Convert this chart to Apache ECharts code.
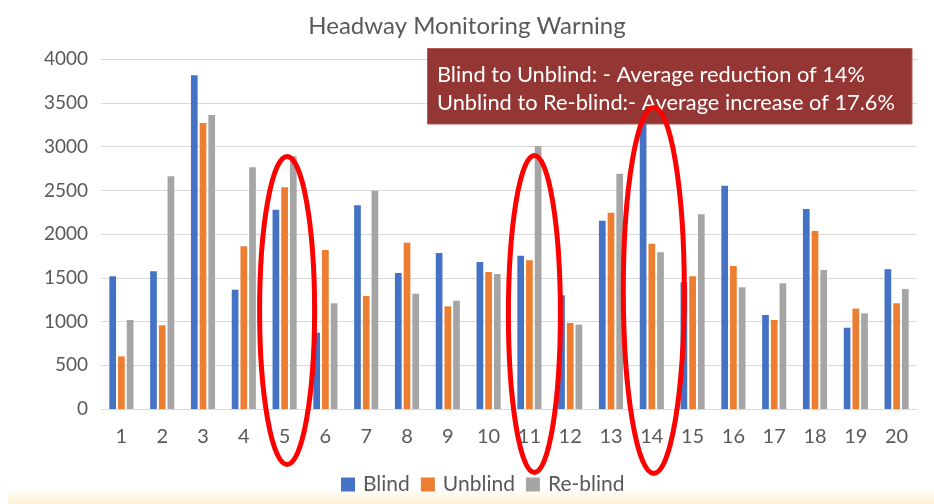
<!DOCTYPE html>
<html>
<head>
<meta charset="utf-8">
<script src="https://cdn.jsdelivr.net/npm/echarts@6/dist/echarts.min.js"></script>
<style>html,body{margin:0;padding:0;background:#fff}#c{width:934px;height:504px}</style>
</head>
<body>
<div id="c"></div>
<script>
const categories = ['1','2','3','4','5','6','7','8','9','10','11','12','13','14','15','16','17','18','19','20'];
const blind   = [1518,1575,3817,1365,2280,873,2330,1556,1785,1682,1754,1300,2154,3400,1449,2555,1075,2288,930,1598];
const unblind = [602,957,3272,1861,2536,1819,1293,1903,1174,1567,1701,984,2246,1891,1518,1636,1018,2036,1148,1209];
const reblind = [1018,2661,3363,2764,2890,1209,2497,1319,1239,1544,3008,965,2692,1792,2227,1392,1437,1590,1094,1373];
const seriesNames = ['Blind','Unblind','Re-blind'];
const titleText = 'Headway Monitoring Warning';
const noteLines = ['Blind to Unblind: - Average reduction of 14%', 'Unblind to Re-blind:- Average increase of 17.6%'];

const FONT = 'Lato';
const chart = echarts.init(document.getElementById('c'), null, {renderer:'canvas'});
const colors = ['#4472C4','#ED7D31','#A5A5A5'];
const mk = (name, data, i) => ({
  name, type:'bar', data, barWidth:6.7, barGap:'30%',
  itemStyle:{color:colors[i]}, z:2
});
chart.setOption({
  animation:false,
  title:{text:titleText, left:'center', top:9,
    textStyle:{fontFamily:FONT, fontSize:24, fontWeight:'normal', color:'#595959'}},
  grid:{left:101, right:17, top:59.3, bottom:95, containLabel:false},
  legend:{data:seriesNames, left:336, top:469, itemWidth:14, itemHeight:14, itemGap:11,
    icon:'rect', textStyle:{fontFamily:FONT, fontSize:21, color:'#595959', padding:[0,0,0,3]}},
  xAxis:{type:'category', data:categories,
    axisLine:{lineStyle:{color:'#d9d9d9'}}, axisTick:{show:false},
    axisLabel:{fontFamily:FONT, fontSize:20, color:'#595959', margin:18}},
  yAxis:{type:'value', min:0, max:4000, interval:500,
    axisLine:{show:false}, axisTick:{show:false},
    splitLine:{lineStyle:{color:'#d9d9d9'}},
    axisLabel:{fontFamily:FONT, fontSize:19, color:'#595959', margin:13, formatter:v => String(v)}},
  series:[mk(seriesNames[0], blind,0), mk(seriesNames[1], unblind,1), mk(seriesNames[2], reblind,2)]
});

const ellipseDefs = [
  {cat:'5',  dx:2.5, cy:310.5, rx:27.5, ry:154},
  {cat:'11', dx:5,   cy:314,   rx:26,   ry:158.5},
  {cat:'14', dx:2,   cy:290.5, rx:30.5, ry:183}
];
const graphics = [
  {type:'rect', left:8, top:491, z:0, shape:{width:926, height:13},
    style:{fill:new echarts.graphic.LinearGradient(0,0,0,1,[{offset:0,color:'#fffdf7'},{offset:1,color:'#fdf1d6'}])}},
  {type:'rect', z:50, shape:{x:427.5, y:48.5, width:484.5, height:75.5},
    style:{fill:'#943634', stroke:'#b25a57', lineWidth:1}},
  {type:'text', z:51, x:437, y:74.5, style:{text:noteLines[0], fill:'#ffffff', font:'21.8px '+FONT, verticalAlign:'middle'}},
  {type:'text', z:51, x:437, y:102.7, style:{text:noteLines[1], fill:'#ffffff', font:'21.8px '+FONT, verticalAlign:'middle'}}
];
ellipseDefs.forEach(e => {
  const px = chart.convertToPixel({xAxisIndex:0}, e.cat);
  graphics.push({type:'ellipse', z:60, shape:{cx:px + e.dx, cy:e.cy, rx:e.rx, ry:e.ry},
    style:{fill:'none', stroke:'#ff0000', lineWidth:5}});
});
chart.setOption({graphic:graphics});
</script>
</body>
</html>
